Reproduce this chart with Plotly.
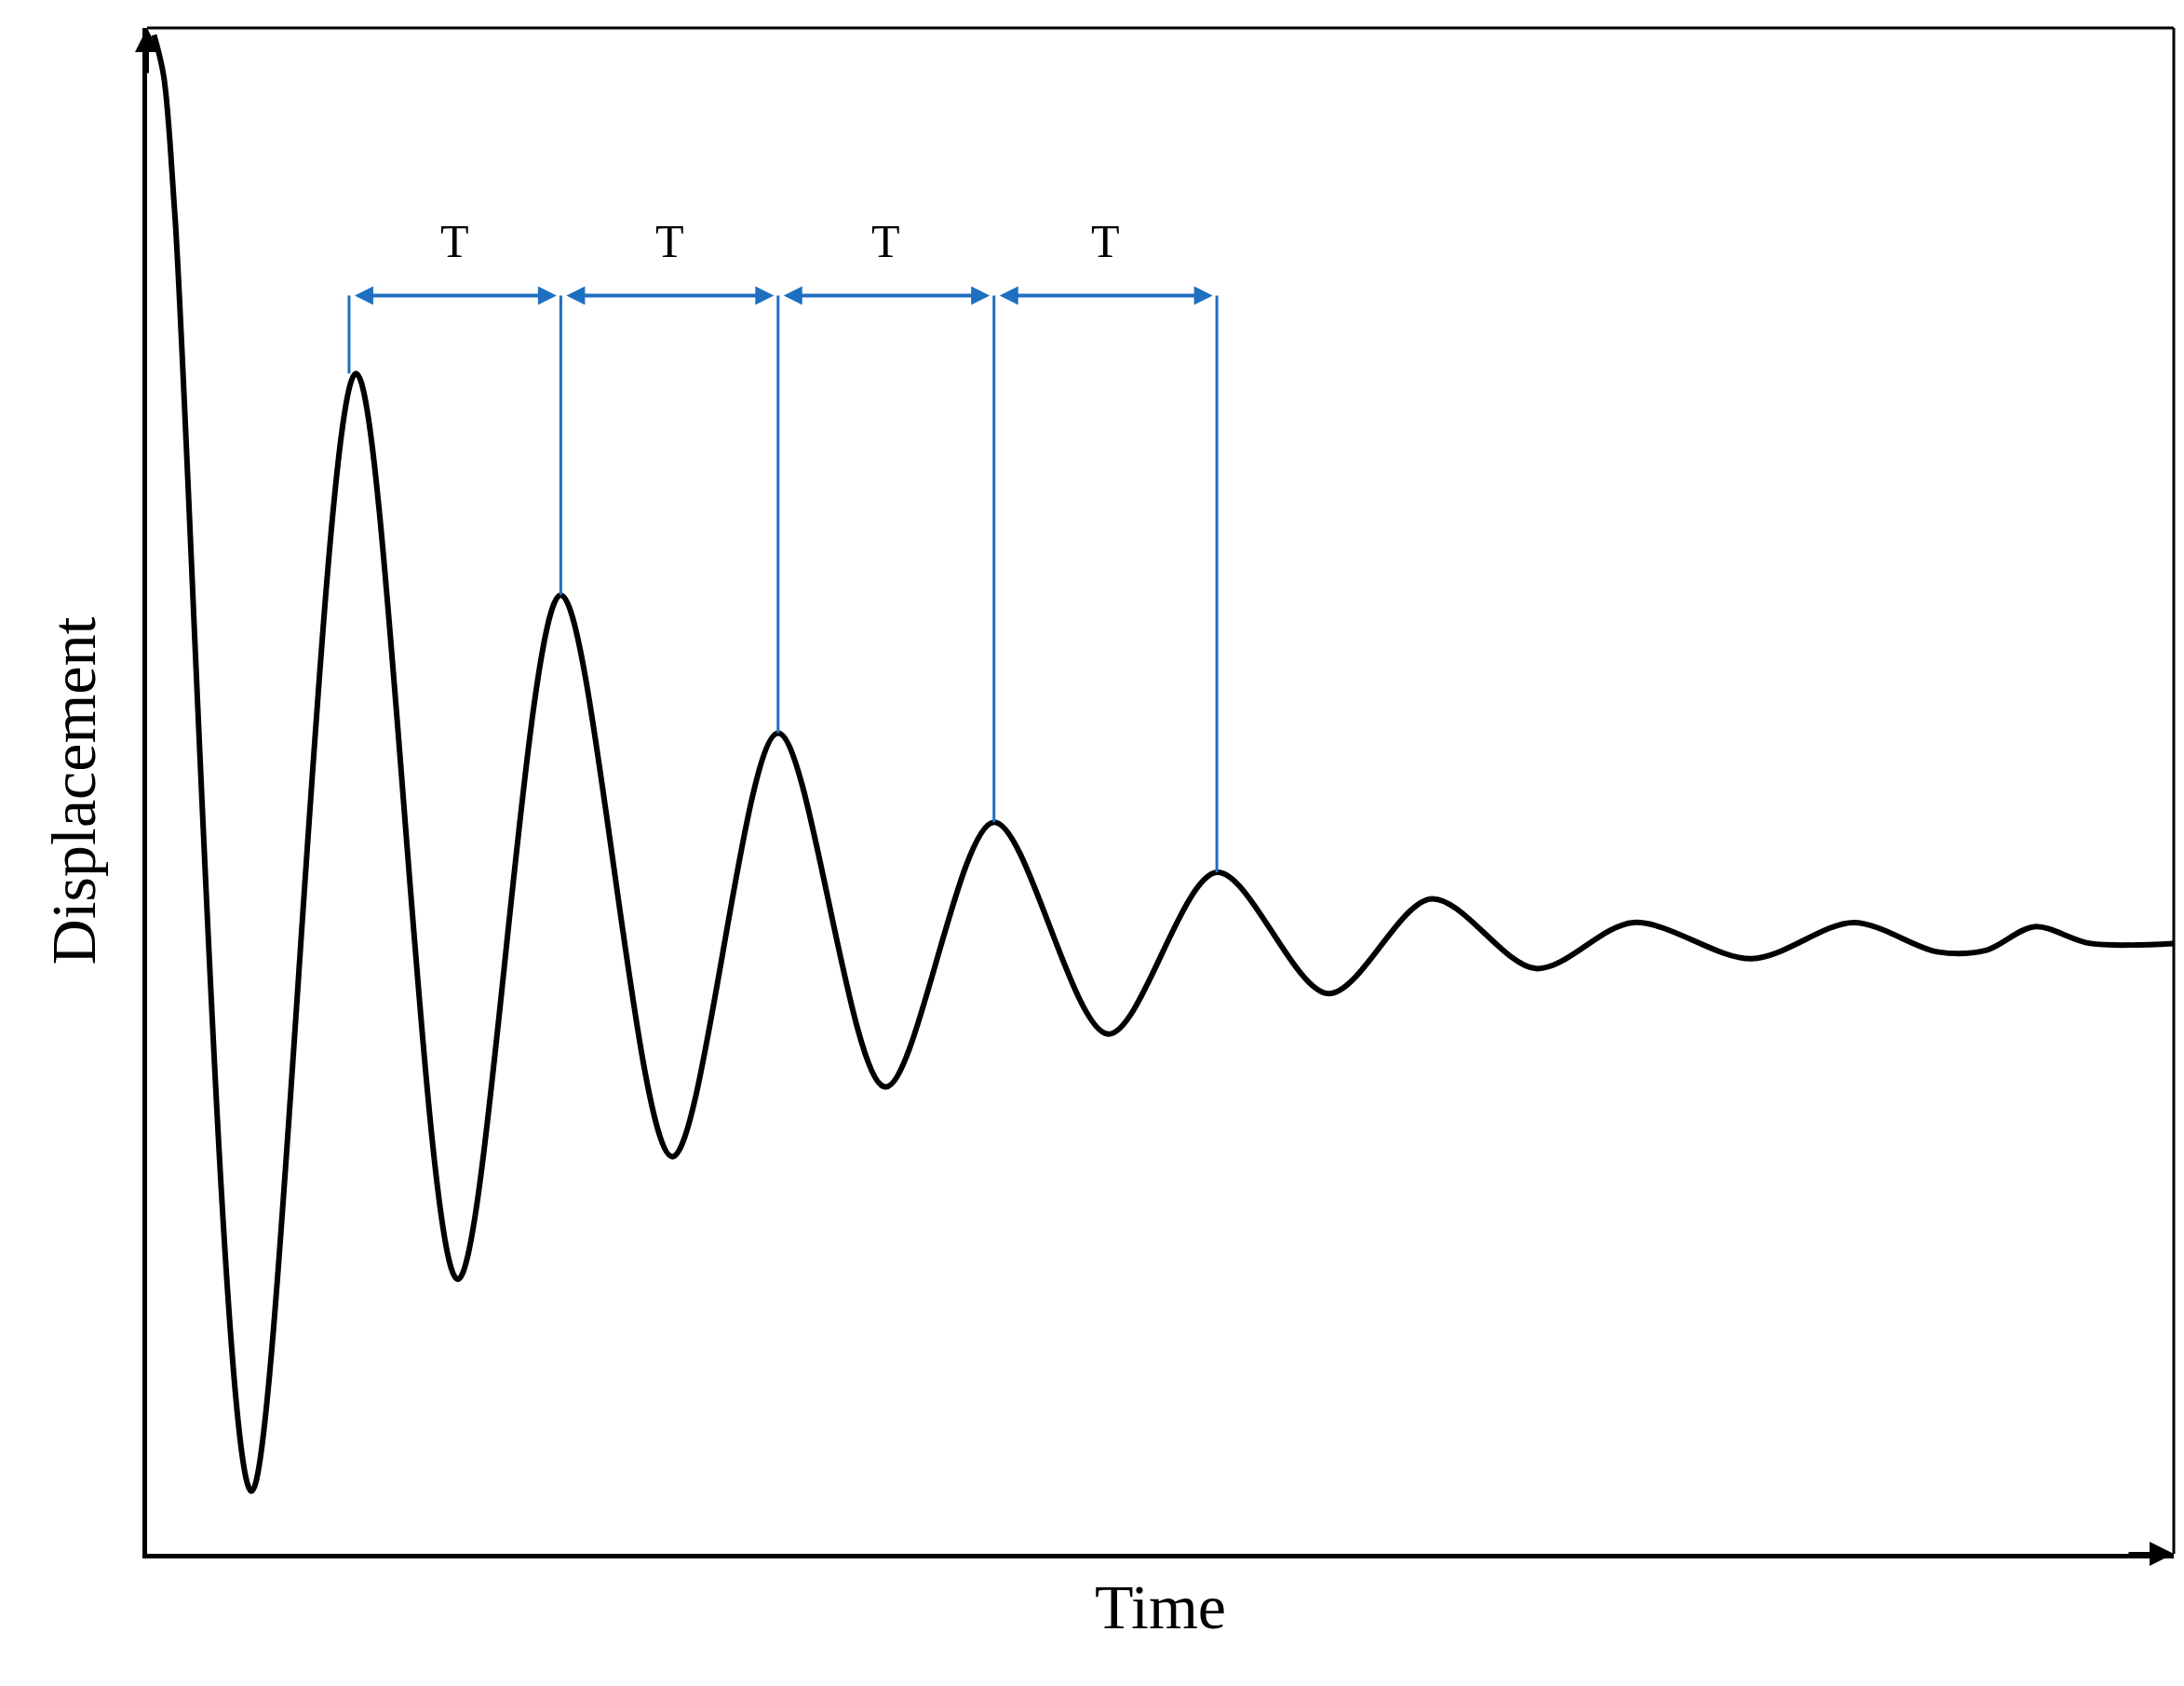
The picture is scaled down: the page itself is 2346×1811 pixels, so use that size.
import plotly.graph_objects as go

# curve extrema (time, displacement) in arbitrary units
time = [5, 12, 20, 75, 150, 223, 297, 377, 453, 530, 608, 690, 768, 848, 922, 997, 1067, 1152, 1225, 1285, 1320, 1355, 1395, 1455]
disp = [1090, 1060, 960, 45, 847, 197, 688, 285, 589, 335, 525, 373, 489, 402, 470, 420, 453, 427, 453, 432, 433, 450, 438, 438]
peak_t = [145, 297, 453, 608, 768]
peak_d = [847, 688, 589, 525, 489]
arrow_level = 903
label_level = 942
period_label = "T"

BLUE = "#1f6fc0"
fig = go.Figure()
fig.add_trace(go.Scatter(x=time, y=disp, mode="lines",
                         line=dict(color="black", width=6, shape="spline", smoothing=0.9),
                         hoverinfo="skip", showlegend=False))
for t, d in zip(peak_t, peak_d):
    fig.add_trace(go.Scatter(x=[t, t], y=[d, arrow_level], mode="lines",
                             line=dict(color=BLUE, width=3), showlegend=False))
for a, b in zip(peak_t[:-1], peak_t[1:]):
    fig.add_annotation(x=b - 3, y=arrow_level, ax=a + 3, ay=arrow_level, xref="x", yref="y",
                       axref="x", ayref="y", showarrow=True, arrowhead=2, startarrowhead=2,
                       arrowside="end+start", arrowwidth=4, arrowsize=1, arrowcolor=BLUE, text="")
    fig.add_annotation(x=(a + b) / 2, y=label_level, text=period_label, showarrow=False,
                       font=dict(family="Liberation Serif", size=50, color="black"))

# axis arrows
fig.add_annotation(x=1, y=0, ax=-50, ay=0, xref="paper", yref="paper", axref="pixel", ayref="pixel",
                   showarrow=True, arrowhead=2, arrowwidth=4, arrowsize=1.3, arrowcolor="black", text="")
fig.add_annotation(x=0, y=1, ax=0, ay=50, xref="paper", yref="paper", axref="pixel", ayref="pixel",
                   showarrow=True, arrowhead=2, arrowwidth=4, arrowsize=1.3, arrowcolor="black", text="")
fig.add_shape(type="line", xref="paper", yref="paper", x0=0, y0=1, x1=1, y1=1, line=dict(color="black", width=3))
fig.add_shape(type="line", xref="paper", yref="paper", x0=1, y0=0, x1=1, y1=1, line=dict(color="black", width=3))

fig.update_xaxes(range=[0, 1455], showline=True, linecolor="black", linewidth=5, showgrid=False,
                 zeroline=False, showticklabels=False, ticks="",
                 title=dict(text="Time", font=dict(family="Liberation Serif", size=68, color="black"), standoff=30))
fig.update_yaxes(range=[0, 1095], showline=True, linecolor="black", linewidth=5, showgrid=False,
                 zeroline=False, showticklabels=False, ticks="",
                 title=dict(text="Displacement", font=dict(family="Liberation Serif", size=68, color="black"), standoff=30))
fig.update_layout(width=2346, height=1811, plot_bgcolor="white", paper_bgcolor="white",
                  margin=dict(l=150, r=19, t=22, b=150))
fig.write_html("out.html")
